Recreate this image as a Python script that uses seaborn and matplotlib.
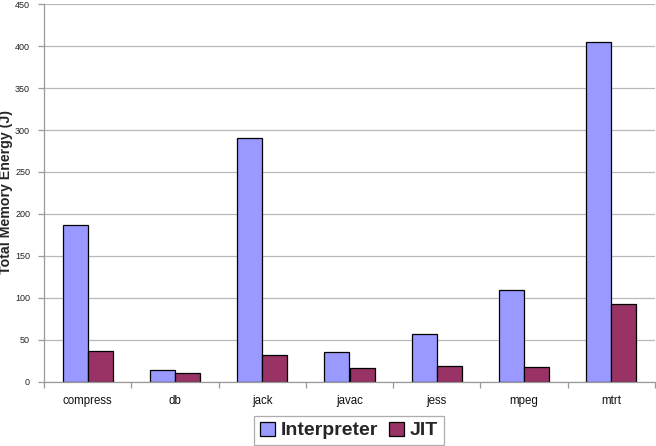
import matplotlib
matplotlib.use("Agg")
import matplotlib.pyplot as plt
import seaborn as sns
import pandas as pd
import numpy as np

categories = ["compress", "db", "jack", "javac", "jess", "mpeg", "mtrt"]
interpreter = [186.5, 13.8, 290.5, 35.7, 57.1, 109.5, 404.5]
jit = [36.6, 10.2, 31.3, 16.7, 17.9, 17.5, 92.0]
series_names = ["Interpreter", "JIT"]
yticks = [0, 50, 100, 150, 200, 250, 300, 350, 400, 450]

df = pd.DataFrame({
    "benchmark": categories * 2,
    "energy": interpreter + jit,
    "series": [series_names[0]] * len(categories) + [series_names[1]] * len(categories),
})

sns.set_style("white")
plt.rcParams["font.family"] = ["Liberation Sans", "DejaVu Sans"]

fig = plt.figure(figsize=(6.56, 4.46), dpi=100)
ax = fig.add_axes([44 / 656, 1 - 381.5 / 446, (655 - 44) / 656, (381.5 - 4.3) / 446])

sns.barplot(data=df, x="benchmark", y="energy", hue="series",
            palette=["#9999FF", "#993366"], width=0.573, gap=0,
            edgecolor="black", linewidth=0.9, ax=ax, saturation=1)

ax.set_ylim(0, 450)
ax.set_xlim(-0.5, len(categories) - 0.5)
ax.set_yticks(yticks)
ax.set_yticklabels([str(v) for v in yticks], fontsize=6.5, color="#222222")
ax.yaxis.grid(True, color="#b8b8b8", linewidth=0.9)
ax.set_axisbelow(True)
ax.set_xlabel("")
ax.set_ylabel("Total Memory Energy (J)", fontsize=10.2, fontweight="bold")
ax.yaxis.set_label_coords((13.5 - 44) / 611, (381.5 - 192) / 377.2)
ax.tick_params(axis="x", length=0, labelsize=8.3, pad=10, colors="#111111")
ax.tick_params(axis="y", length=4, width=0.9, color="#999999", pad=6, left=True)
ax.set_xticks(np.arange(-0.5, len(categories), 1.0), minor=True)
ax.tick_params(axis="x", which="minor", length=4, width=0.9, color="#999999", bottom=True)
for s in ["top", "right"]:
    ax.spines[s].set_visible(False)
for s in ["left", "bottom"]:
    ax.spines[s].set_color("#999999")
    ax.spines[s].set_linewidth(0.9)

leg = ax.legend(loc="center", bbox_to_anchor=((349 - 44) / 611, (381.5 - 430.5) / 377.2),
                ncol=2, frameon=True, prop={"weight": "bold", "size": 14},
                handlelength=0.75, handleheight=0.75, handletextpad=0.3, columnspacing=0.6,
                borderpad=0.3, borderaxespad=0, fancybox=False, title=None)
leg.get_frame().set_edgecolor("#999999")
leg.get_frame().set_linewidth(0.9)

fig.savefig("out.png", dpi=100)
